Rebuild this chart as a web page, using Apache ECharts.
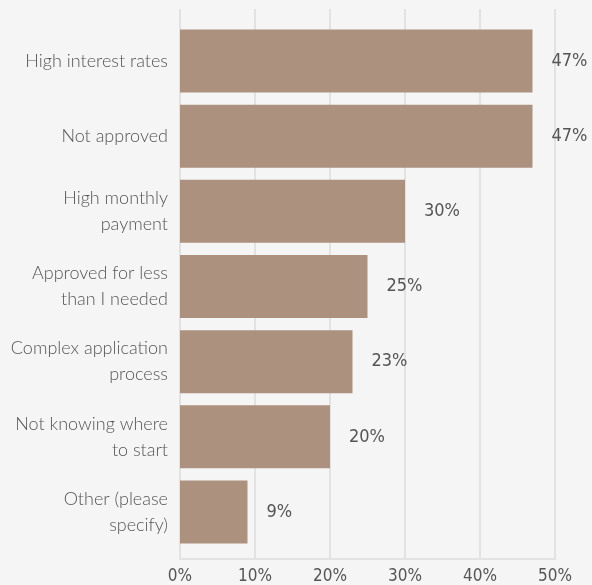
<!DOCTYPE html>
<html>
<head>
<meta charset="utf-8">
<script src="https://cdn.jsdelivr.net/npm/echarts@6/dist/echarts.min.js"></script>
<style>
  html, body { margin: 0; padding: 0; background: #f5f5f5; }
  #chart { width: 592px; height: 585px; }
</style>
</head>
<body>
<div id="chart"></div>
<script>
// Reasons given, shown top to bottom
const categories = [
  'High interest rates',
  'Not approved',
  'High monthly\npayment',
  'Approved for less\nthan I needed',
  'Complex application\nprocess',
  'Not knowing where\nto start',
  'Other (please\nspecify)'
];
// Share of respondents, percent
const shares = [47, 47, 30, 25, 23, 20, 9];
// Percentage axis
const axisMin = 0;
const axisMax = 50;
const axisStep = 10;

const labelColor = '#555555';
const gridColor = '#e2e2e2';
const barColor = '#ab917e';
const numberFont = '"DejaVu Sans Condensed", "Liberation Sans Narrow", sans-serif';
const textFont = 'Lato, "Open Sans", sans-serif';

const chart = echarts.init(document.getElementById('chart'));
chart.setOption({
  backgroundColor: '#f5f5f5',
  animation: false,
  grid: [
    // gridlines and percentage axis
    { left: 180, right: 37, top: 9, bottom: 26 },
    // bars
    { left: 180, right: 37, top: 23.4, bottom: 35.4 }
  ],
  xAxis: [
    {
      type: 'value', gridIndex: 0,
      min: axisMin, max: axisMax, interval: axisStep,
      axisLine: { show: true, lineStyle: { color: gridColor, width: 2 } },
      axisTick: { show: false },
      splitLine: { show: true, lineStyle: { color: gridColor, width: 2 } },
      axisLabel: {
        formatter: '{value}%',
        color: labelColor,
        fontFamily: numberFont,
        fontSize: 17,
        margin: 9
      }
    },
    {
      type: 'value', gridIndex: 1,
      min: axisMin, max: axisMax, interval: axisStep,
      show: false
    }
  ],
  yAxis: [
    { type: 'value', gridIndex: 0, min: 0, max: 1, show: false },
    {
      type: 'category', gridIndex: 1,
      data: categories,
      inverse: true,
      axisLine: { show: false },
      axisTick: { show: false },
      splitLine: { show: false },
      axisLabel: {
        color: labelColor,
        fontFamily: textFont,
        fontWeight: 300,
        fontSize: 18,
        lineHeight: 26,
        margin: 12,
        align: 'right'
      }
    }
  ],
  series: [
    {
      type: 'bar',
      xAxisIndex: 1,
      yAxisIndex: 1,
      data: shares,
      barWidth: 63,
      itemStyle: { color: barColor },
      label: {
        show: true,
        position: 'right',
        distance: 19,
        formatter: '{c}%',
        color: labelColor,
        fontFamily: numberFont,
        fontSize: 18
      }
    }
  ]
});
</script>
</body>
</html>
